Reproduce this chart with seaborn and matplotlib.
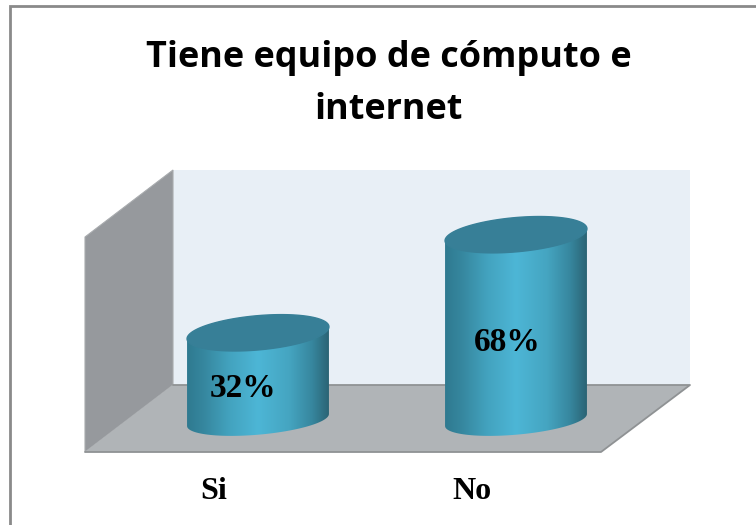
import matplotlib
matplotlib.use("Agg")
import matplotlib.pyplot as plt
import matplotlib.transforms as mtrans
from matplotlib.colors import LinearSegmentedColormap
from matplotlib.patches import Polygon, PathPatch
from matplotlib.path import Path
import numpy as np
import pandas as pd
import seaborn as sns

categories = ["Si", "No"]
values = [32, 68]
labels = ["32%", "68%"]
title_text = "Tiene equipo de cómputo e\ninternet"

W, H = 756, 525
sns.set_theme(style="white")

fig = plt.figure(figsize=(W / 100, H / 100), dpi=100, facecolor="white")

# Background: frame, walls and floor of the 3D box, in figure pixels
bg = fig.add_axes([0, 0, 1, 1])
bg.set_xlim(0, W)
bg.set_ylim(H, 0)
bg.axis("off")
bg.plot([9.5, 9.5, W], [H, 6, 6], color="#8a8a8a", lw=2.0, solid_joinstyle="miter")
bg.add_patch(Polygon([(173, 170), (690, 170), (690, 385), (173, 385)], fc="#e8eff6", ec="none"))
bg.add_patch(Polygon([(85, 237), (173, 170), (173, 385), (85, 452)], fc="#96999d", ec="#a8abae", lw=0.8))
bg.add_patch(Polygon([(85, 452), (173, 385), (690, 385), (601, 452)], fc="#b0b4b7", ec="none"))
bg.plot([173, 690, 601, 85], [385, 385, 452, 452], color="#8f9294", lw=1.3)
bg.text(389, 84, title_text, ha="center", va="center", fontsize=25.9, fontweight="bold",
        family="Open Sans", color="black", linespacing=1.6)

# Chart axes sit at mid depth of the box
ax = fig.add_axes([129 / W, 1 - 420 / H, 516 / W, 218 / H])
ax.patch.set_alpha(0)
df = pd.DataFrame({"categoria": categories, "valor": values})
sns.barplot(data=df, x="categoria", y="valor", width=0.55, color="#48aecb", ax=ax, zorder=2)
ax.set_xlim(-0.5, 1.5)
ax.set_ylim(0, 80)
ax.set_xlabel("")
ax.set_ylabel("")
ax.set_yticks([])
sns.despine(ax=ax, left=True, bottom=True)

# Category labels belong to the front edge of the floor
ax.tick_params(axis="x", length=0, pad=41)
offset = mtrans.ScaledTranslation(-44 / 100, 0, fig.dpi_scale_trans)
for tick in ax.get_xticklabels():
    tick.set_family("Liberation Serif")
    tick.set_fontweight("bold")
    tick.set_fontsize(23)
    tick.set_color("black")
    tick.set_transform(tick.get_transform() + offset)

shade = LinearSegmentedColormap.from_list("cyl", [
    (0.0, "#2f7a90"), (0.12, "#36879f"), (0.3, "#43a3bf"), (0.5, "#4db6d6"),
    (0.72, "#45a5c1"), (0.88, "#37879f"), (1.0, "#2b6475")])
grad = np.linspace(0, 1, 256).reshape(1, -1)

tilt = 2.2        # rise of the ellipse towards the right, in value units
minor = 6.3       # half height of the top ellipse, in value units
minor_base = 5.4  # the base looks a little flatter
t = np.linspace(0, 2 * np.pi, 121)

# where the percent text sits on each cylinder
label_dx = [-15 / 258, -9 / 258]
label_frac = [0.366, 0.42]

for bar, lab, dx, frac in zip(ax.patches, labels, label_dx, label_frac):
    x0 = bar.get_x()
    w = bar.get_width()
    top = bar.get_height()
    bar.set_visible(False)
    cx = x0 + w / 2
    ex = cx + w / 2 * np.cos(t)
    ey = minor * np.sin(t) + tilt * np.cos(t)
    base_y = minor_base * np.sin(t) + tilt * np.cos(t)

    # side of the cylinder: bottom half of the base ellipse and the top rim
    lower = t >= np.pi
    side_x = np.concatenate([ex[lower], [x0 + w], [x0]])
    side_y = np.concatenate([base_y[lower], [top + tilt], [top - tilt]])
    clip = PathPatch(Path(np.column_stack([side_x, side_y])), transform=ax.transData, fc="none", ec="none")
    ax.add_patch(clip)
    clip.set_clip_on(False)
    im = ax.imshow(grad, extent=[x0, x0 + w, -minor - tilt, top + tilt], aspect="auto",
                   cmap=shade, zorder=3, interpolation="bilinear")
    im.set_clip_box(fig.bbox)
    im.set_clip_path(clip)

    ax.fill(ex, top + ey, color="#377f97", zorder=4, clip_on=False)
    ax.text(cx + dx, top * frac, lab, ha="center", va="center", family="Liberation Serif",
            fontweight="bold", fontsize=24, color="black", zorder=5)

ax.set_xlim(-0.5, 1.5)
ax.set_ylim(0, 80)

fig.savefig("out.png", dpi=100)
plt.close(fig)
